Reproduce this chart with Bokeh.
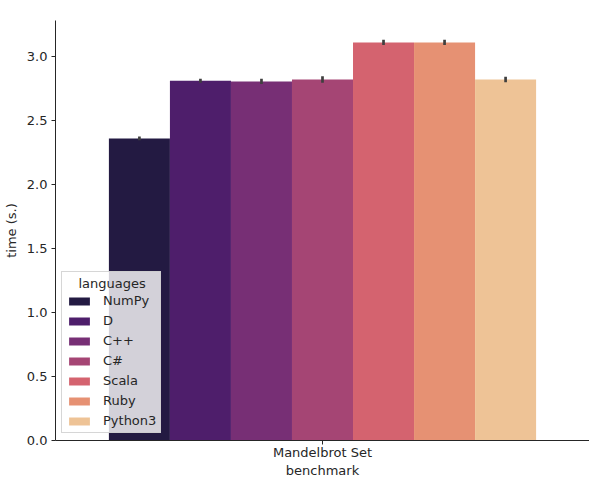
from bokeh.plotting import figure
from bokeh.models import Range1d, FixedTicker, NumeralTickFormatter, ColumnDataSource
from bokeh.embed import file_html
from bokeh.resources import INLINE

# ---- data ----
benchmark = "Mandelbrot Set"
languages = ["NumPy", "D", "C++", "C#", "Scala", "Ruby", "Python3"]
times = [2.36, 2.81, 2.805, 2.82, 3.11, 3.11, 2.82]
errors = [0.015, 0.016, 0.02, 0.025, 0.02, 0.02, 0.022]
colors = ["#231a42", "#4e1e6b", "#772f75", "#a54574", "#d4636f", "#e69173", "#eec396"]
y_ticks = [0.0, 0.5, 1.0, 1.5, 2.0, 2.5, 3.0]

# ---- layout from data ----
n = len(languages)
group_width = 0.8
bar_w = group_width / n
xs = [-group_width / 2 + bar_w * (i + 0.5) for i in range(n)]
lo = [t - e for t, e in zip(times, errors)]
hi = [t + e for t, e in zip(times, errors)]

src = ColumnDataSource(dict(x=xs, top=times, lang=languages, color=colors, lo=lo, hi=hi))

FONT = "DejaVu Sans"
TXT = "#262626"

p = figure(width=589, height=480, output_backend="svg", toolbar_location=None,
           x_range=Range1d(-0.5, 0.5), y_range=Range1d(0, 3.281),
           min_border_left=53, min_border_right=0, min_border_top=20, min_border_bottom=40)
p.outline_line_color = None
p.xgrid.visible = False
p.ygrid.visible = False
p.background_fill_color = "white"
p.border_fill_color = "white"

p.vbar(x="x", top="top", width=bar_w, bottom=0, source=src, fill_color="color",
       line_color=None, legend_field="lang")
p.segment(x0="x", x1="x", y0="lo", y1="hi", source=src, line_color="#3f3f3f", line_width=2.7)

# axes
p.xaxis.ticker = FixedTicker(ticks=[0])
p.xaxis.major_label_overrides = {0: benchmark}
p.xaxis.axis_label = "benchmark"
p.yaxis.ticker = FixedTicker(ticks=y_ticks)
p.yaxis.formatter = NumeralTickFormatter(format="0.0")
p.yaxis.axis_label = "time (s.)"
for ax in (p.xaxis[0], p.yaxis[0]):
    ax.minor_tick_line_color = None
    ax.major_tick_in = 0
    ax.major_tick_out = 4
    ax.axis_line_color = TXT
    ax.major_tick_line_color = TXT
    ax.axis_line_width = 1
    ax.major_label_text_font = FONT
    ax.major_label_text_font_size = "13px"
    ax.major_label_text_color = TXT
    ax.axis_label_text_font = FONT
    ax.axis_label_text_font_size = "13px"
    ax.axis_label_text_font_style = "normal"
    ax.axis_label_text_color = TXT
p.xaxis.major_label_standoff = 0
p.xaxis.axis_label_standoff = 0
p.yaxis.major_label_standoff = 4
p.yaxis.axis_label_standoff = 5

# legend
lg = p.legend[0]
lg.title = "\u00a0\u00a0\u00a0languages"
lg.title_text_font = FONT
lg.title_text_font_size = "13px"
lg.title_text_font_style = "normal"
lg.title_text_color = TXT
lg.title_standoff = 2
lg.label_text_font = FONT
lg.label_text_font_size = "13px"
lg.label_text_color = TXT
lg.glyph_width = 26
lg.glyph_height = 10
lg.label_standoff = 11
lg.label_height = 15
lg.spacing = 5
lg.padding = 4
lg.margin = 0
lg.location = (6, 7)
lg.background_fill_color = "white"
lg.background_fill_alpha = 0.8
lg.border_line_color = "#cccccc"
lg.border_line_alpha = 0.8

open("out.html", "w").write(file_html(p, INLINE))
